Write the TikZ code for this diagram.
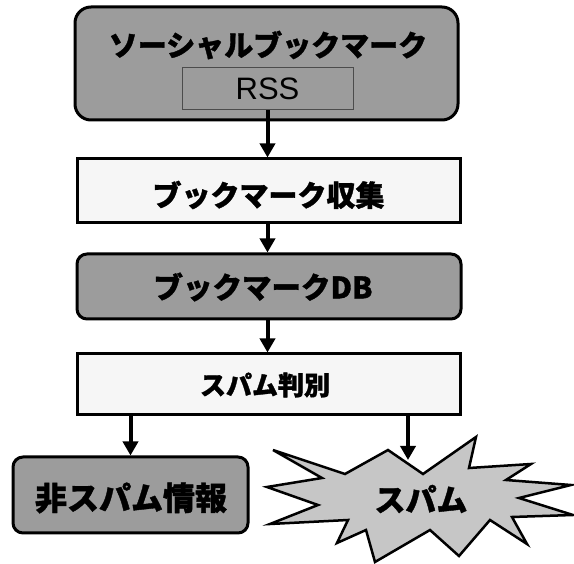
\documentclass[tikz,border=0pt]{standalone}
\usepackage{fontspec}
\newfontfamily\jp{Noto Sans CJK JP}[BoldFeatures={FakeBold=1.2}]
\newfontfamily\lat{Liberation Sans}
\usetikzlibrary{arrows.meta}
\definecolor{boxdark}{HTML}{9C9C9C}
\definecolor{boxlight}{HTML}{F6F6F6}
\definecolor{starfill}{HTML}{C6C6C6}
\tikzset{
  box/.style={draw=black, line width=3pt, inner sep=0pt, anchor=center},
  darkbox/.style={box, fill=boxdark, rounded corners=10pt},
  lightbox/.style={box, fill=boxlight},
  arr/.style={line width=4pt, -{Triangle[width=15pt,length=14pt]}},
  jptext/.style={font=\jp\bfseries\fontsize{#1}{#1}\selectfont, inner sep=0pt}
}
\begin{document}
\begin{tikzpicture}[x=1pt,y=-1pt]
\useasboundingbox (0,0) rectangle (574,564);
% top box
\node[darkbox, rounded corners=16pt, minimum width=383pt, minimum height=113pt] (top) at (266.5,63.5) {};
\node[jptext=29pt] (title) at (268,45) {ソーシャルブックマーク};
\node[draw=black!70, line width=1pt, fill=boxdark, minimum width=171pt, minimum height=42pt, inner sep=0pt, font=\lat\fontsize{31pt}{31pt}\selectfont] (rss) at (267.5,89) {RSS};
% collection
\node[lightbox, minimum width=383pt, minimum height=64pt] (coll) at (268.5,191) {};
\node[jptext=29pt] (colltxt) at (268.5,195) {ブックマーク収集};
% DB
\node[darkbox, minimum width=384pt, minimum height=65pt] (db) at (269,286.5) {};
\node[jptext=29.5pt] (dbtxt) at (263,287) {ブックマークDB};
% judge
\node[lightbox, minimum width=383pt, minimum height=61pt] (judge) at (268.5,384.5) {};
\node[jptext=26pt] (judgetxt) at (265,385) {スパム判別};
% non-spam
\node[darkbox, minimum width=235pt, minimum height=76pt] (nonspam) at (130.5,495) {};
\node[jptext=32pt] (nonspamtxt) at (131,498) {非スパム情報};
% star
\draw[line width=2.5pt, line join=miter, fill=starfill]
  (273,450) -- (345,474) -- (388,450) -- (423,474) -- (476,437) -- (469,468)
  -- (531,464) -- (506,480) -- (571,485) -- (519,498) -- (573,515) -- (512,517)
  -- (527,544) -- (490,520) -- (459,556) -- (430,530) -- (375,562) -- (366,530)
  -- (337,543) -- (348,520) -- (270,524) -- (318,505) -- (267,487) -- (322,478) -- cycle;
\node[jptext=31pt] (spam) at (421,499) {スパム};
\coordinate (startop) at (408,460);
% arrows
\draw[arr] (rss.south) -- (rss.south |- coll.north);
\draw[arr] (coll.south -| rss.south) -- (rss.south |- db.north);
\draw[arr] (db.south -| rss.south) -- (rss.south |- judge.north);
\draw[arr] (judge.south -| nonspam.north) -- (nonspam.north);
\draw[arr] (judge.south -| startop) -- (startop);
\end{tikzpicture}
\end{document}
